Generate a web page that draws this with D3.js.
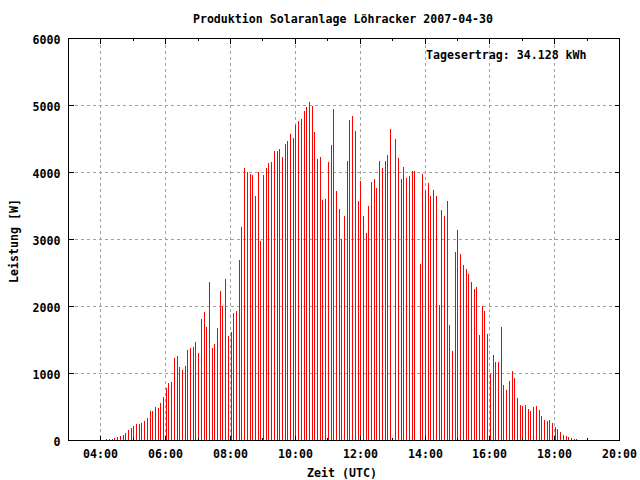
<!DOCTYPE html>
<html>
<head>
<meta charset="utf-8">
<script src="https://cdn.jsdelivr.net/npm/d3@7"></script>
<style>
  html, body { margin: 0; padding: 0; background: #fff; }
  svg { display: block; }
  text { font-family: "DejaVu Sans Mono", "Liberation Mono", monospace; font-weight: bold; font-size: 11.6px; fill: #000; }
</style>
</head>
<body>
<svg id="chart" width="640" height="480"></svg>
<script>
// ---- data ----
const title = "Produktion Solaranlage Löhracker 2007-04-30";
const energyLabel = "Tagesertrag: 34.128 kWh";
const xAxisTitle = "Zeit (UTC)";
const yAxisTitle = "Leistung [W]";

const xDomainHours = [3, 20];
const xMajorHours = [4, 6, 8, 10, 12, 14, 16, 18, 20];
const xTickLabels = ["04:00", "06:00", "08:00", "10:00", "12:00", "14:00", "16:00", "18:00", "20:00"];
const xMinorHours = [5, 7, 9, 11, 13, 15, 17, 19];
const yTicks = [0, 1000, 2000, 3000, 4000, 5000, 6000];

// samples every 5 minutes starting at 04:11 (UTC)
const sampleStartMinutes = 4 * 60 + 11;
const sampleStepMinutes = 5;
const power = [
  20, 20, 20, 35, 50, 65, 80, 110, 155, 185, 215, 245, 245, 260, 290, 335,
  440, 440, 500, 485, 555, 645, 780, 855, 870, 1230, 1260, 1095, 1050, 1110,
  1350, 1380, 1395, 1468, 1303, 1811, 1915, 1692, 2363, 1378, 1438, 1677,
  2229, 2005, 2408, 1557, 1617, 1900, 1930, 2692, 3184, 4065, 4005, 3975,
  3960, 3647, 4005, 2975, 3960, 4065, 4139, 4154, 4318, 4318, 4348, 4229,
  4423, 4468, 4572, 4512, 4706, 4766, 4796, 4915, 4975, 5050, 4990, 4602,
  4199, 4229, 3587, 3602, 4154, 4408, 4945, 3721, 3453, 3005, 3348, 4169,
  4781, 4841, 4617, 3572, 3871, 3348, 3095, 3498, 3856, 3900, 3766, 4169,
  4065, 4169, 4259, 4647, null, 4498, 4214, 3900, 4085, 3915, 3945, 4020,
  4020, null, 2632, 3975, 3721, 3841, 3647, 3736, 3647, 2020, 3438, 3348,
  3572, 1721, 1333, 2811, 3139, 2781, 2617, 2557, 2483, 2363, 2259, 2289,
  1572, 2005, 1930, 1587, 1000, 1274, 1169, 1169, 1692, 826, 751, 886,
  1035, 930, 632, 527, 512, 527, 468, 438, 498, 512, 453, 363, 303, 289,
  303, 259, 199, 169, 124, 80, 65, 50, 35, 20, 20
];

// ---- layout ----
const svg = d3.select("#chart");
const L = 68.5, R = 619.5, T = 38.5, B = 440.5;
const xs = d3.scaleLinear().domain(xDomainHours).range([L, R]);
const ys = d3.scaleLinear().domain([0, 6000]).range([B, T]);
const px = v => Math.floor(v) + 0.5;

svg.append("rect").attr("width", 640).attr("height", 480).attr("fill", "#fff");

// grid
const grid = svg.append("g").attr("stroke", "#a0a0a0").attr("stroke-width", 1)
  .attr("stroke-dasharray", "3,3").attr("shape-rendering", "crispEdges");
grid.selectAll("line.gx").data(xMajorHours.filter(h => h < xDomainHours[1])).join("line")
  .attr("x1", d => px(xs(d))).attr("x2", d => px(xs(d)))
  .attr("y1", T).attr("y2", B);
grid.selectAll("line.gy").data(yTicks.filter(v => v > 0 && v < 6000)).join("line")
  .attr("class", "gy")
  .attr("y1", d => px(ys(d))).attr("y2", d => px(ys(d)))
  .attr("x1", L).attr("x2", R);

// bars (impulses)
const samples = power.map((v, i) => ({ t: (sampleStartMinutes + i * sampleStepMinutes) / 60, v }))
  .filter(d => d.v !== null);
svg.append("g").attr("stroke", "#ff0000").attr("stroke-width", 1).attr("shape-rendering", "crispEdges")
  .selectAll("line").data(samples).join("line")
  .attr("x1", d => px(xs(d.t))).attr("x2", d => px(xs(d.t)))
  .attr("y1", B - 0.5).attr("y2", d => ys(d.v));

// axes
function styleAxis(g, isX) {
  g.select(".domain").remove();
  g.attr("font-family", null).attr("font-size", null);
  g.selectAll(".tick line").attr("stroke", "#000").attr("shape-rendering", "crispEdges");
  g.selectAll(".tick").attr("transform", d => isX ? `translate(${px(xs(d))},0)` : `translate(0,${px(ys(d))})`);
}

const gx = svg.append("g").attr("transform", `translate(0,${B})`)
  .call(d3.axisBottom(xs).tickValues(xMajorHours).tickFormat((d, i) => xTickLabels[i]).tickSizeInner(-5).tickSizeOuter(0));
styleAxis(gx, true);
gx.selectAll("text").attr("y", 17).attr("dy", null);

const gxm = svg.append("g").attr("transform", `translate(0,${B})`)
  .call(d3.axisBottom(xs).tickValues(xMinorHours).tickFormat("").tickSizeInner(-2.5).tickSizeOuter(0));
styleAxis(gxm, true);

const gxt = svg.append("g").attr("transform", `translate(0,${T})`)
  .call(d3.axisTop(xs).tickValues(xMajorHours).tickFormat("").tickSizeInner(-5).tickSizeOuter(0));
styleAxis(gxt, true);
const gxtm = svg.append("g").attr("transform", `translate(0,${T})`)
  .call(d3.axisTop(xs).tickValues(xMinorHours).tickFormat("").tickSizeInner(-2.5).tickSizeOuter(0));
styleAxis(gxtm, true);

const gy = svg.append("g").attr("transform", `translate(${L},0)`)
  .call(d3.axisLeft(ys).tickValues(yTicks).tickFormat(d3.format("d")).tickSizeInner(-5).tickSizeOuter(0));
styleAxis(gy, false);
gy.selectAll("text").attr("x", -8).attr("y", 5).attr("dy", null).attr("text-anchor", "end");

const gyr = svg.append("g").attr("transform", `translate(${R},0)`)
  .call(d3.axisRight(ys).tickValues(yTicks).tickFormat("").tickSizeInner(-5).tickSizeOuter(0));
styleAxis(gyr, false);

// frame
svg.append("rect").attr("x", L).attr("y", T).attr("width", R - L).attr("height", B - T)
  .attr("fill", "none").attr("stroke", "#000").attr("stroke-width", 1).attr("shape-rendering", "crispEdges");

// texts
svg.append("text").attr("x", 343).attr("y", 23).attr("text-anchor", "middle").text(title);
svg.append("text").attr("x", 426).attr("y", 58.5).attr("text-anchor", "start").text(energyLabel);
svg.append("text").attr("x", 342).attr("y", 477).attr("text-anchor", "middle").text(xAxisTitle);
svg.append("text").attr("transform", "translate(18,241) rotate(-90)").attr("text-anchor", "middle").text(yAxisTitle);
</script>
</body>
</html>
